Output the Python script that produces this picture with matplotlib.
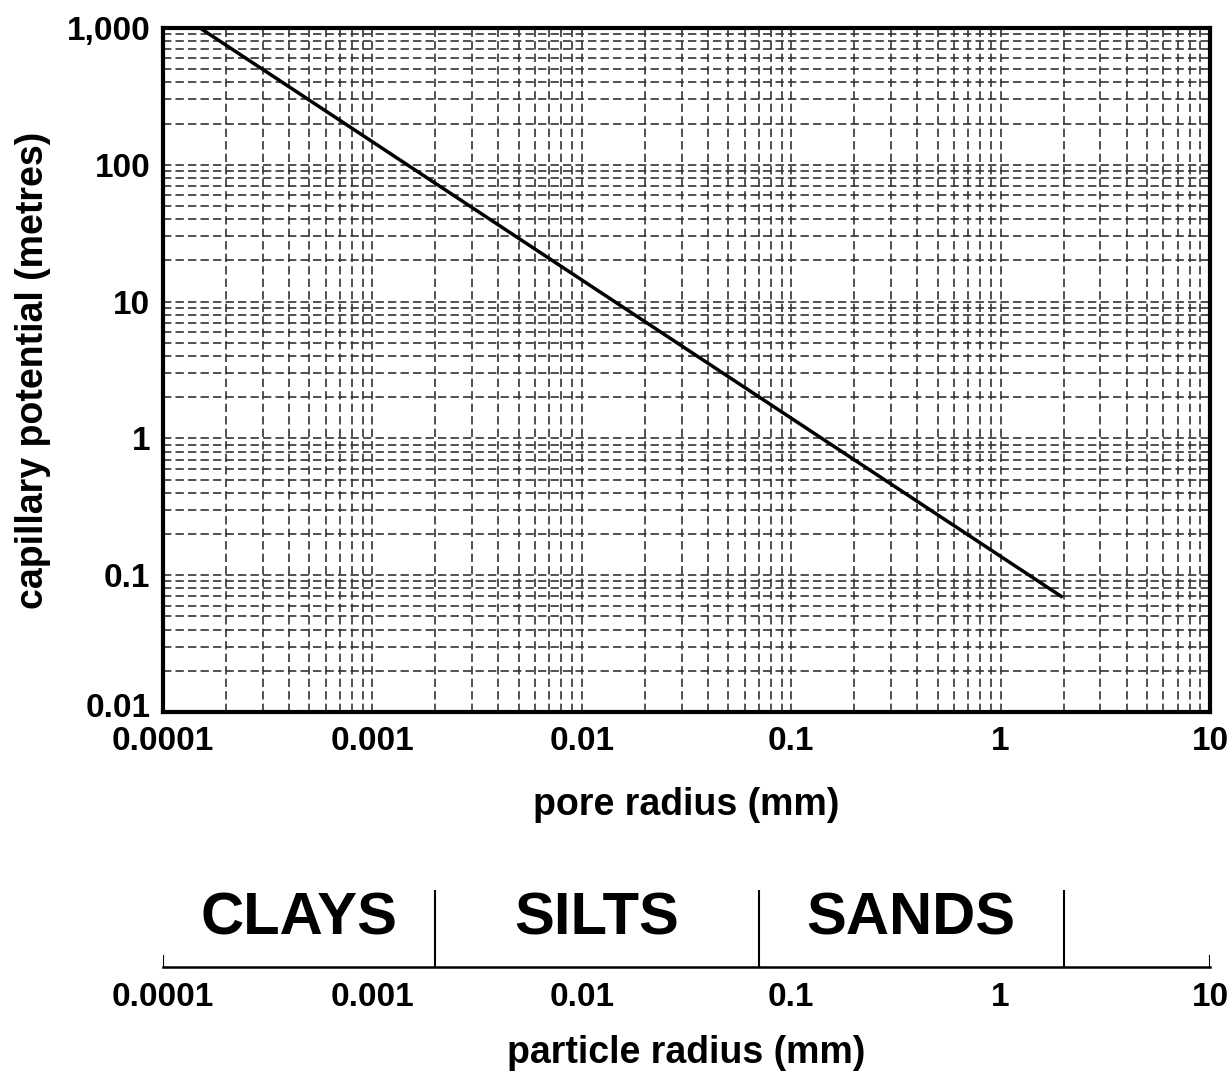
import matplotlib
matplotlib.use('Agg')
import matplotlib.pyplot as plt
import matplotlib.transforms as mtrans
import numpy as np

plt.rcParams['font.family'] = ['Liberation Sans', 'DejaVu Sans']
plt.rcParams['font.weight'] = 'bold'

# line (pore radius mm, capillary potential m)
pore_r = [0.00015, 1.95]
cap_pot = [1000, 0.07]

x_ticks = [0.0001, 0.001, 0.01, 0.1, 1, 10]
x_labels = ['0.0001', '0.001', '0.01', '0.1', '1', '10']
y_ticks = [0.01, 0.1, 1, 10, 100, 1000]
y_labels = ['0.01', '0.1', '1', '10', '100', '1,000']

# soil classes by particle radius (mm)
classes = ['CLAYS', 'SILTS', 'SANDS']
bounds = [0.0001, 0.002, 0.07, 2]

fig = plt.figure(figsize=(12.3, 10.73), dpi=100)
ax = fig.add_axes([0.1325, 0.3364, 0.8512, 0.6376])
ax.set_xscale('log')
ax.set_yscale('log')
ax.set_xlim(1e-4, 10)
ax.set_ylim(0.01, 1000)

ax.grid(True, which='both', color='0.2', lw=1.2, ls=(0, (5, 2.5)))
ax.plot(pore_r, cap_pot, color='black', lw=2.5)

ax.set_xticks(x_ticks)
ax.set_xticklabels(x_labels)
ax.set_yticks(y_ticks)
ax.set_yticklabels(y_labels)
ax.tick_params(which='both', length=0)
ax.tick_params(axis='x', labelsize=24, pad=10)
ax.tick_params(axis='y', labelsize=24, pad=9)
for s in ax.spines.values():
    s.set_linewidth(3)

# the bottom y label sits a little higher so it clears 0.0001
lab0 = ax.get_yticklabels()[0]
lab0.set_transform(lab0.get_transform() + mtrans.ScaledTranslation(0, 5 / 72, fig.dpi_scale_trans))

ax.set_xlabel('pore radius (mm)', fontsize=27, fontweight='bold', labelpad=22)
ax.set_ylabel('capillary potential (metres)', fontsize=27, fontweight='bold')
ax.yaxis.set_label_coords(-0.107, 0.5)

# particle radius scale
ax2 = fig.add_axes([0.1325, 0.0988, 0.8512, 0.075])
ax2.set_xscale('log')
ax2.set_xlim(1e-4, 10)
ax2.set_ylim(0, 1)
for k in ['top', 'left', 'right']:
    ax2.spines[k].set_visible(False)
ax2.spines['bottom'].set_linewidth(1.8)
ax2.set_yticks([])
ax2.set_xticks(x_ticks)
ax2.set_xticklabels(x_labels)
ax2.xaxis.set_minor_locator(matplotlib.ticker.NullLocator())
ax2.tick_params(length=0, labelsize=24, pad=11)
ax2.patch.set_alpha(0)

ax2.vlines([1e-4, 10], 0, 0.15, color='black', lw=1.5)
ax2.vlines(bounds[1:], 0, 0.96, color='black', lw=1.5)
for i, name in enumerate(classes):
    xm = np.sqrt(bounds[i] * bounds[i + 1])
    ax2.text(xm, 0.6, name, ha='center', va='center', fontsize=43, fontweight='bold')

ax2.set_xlabel('particle radius (mm)', fontsize=27, fontweight='bold', labelpad=16)

fig.savefig('out.png', dpi=100)
